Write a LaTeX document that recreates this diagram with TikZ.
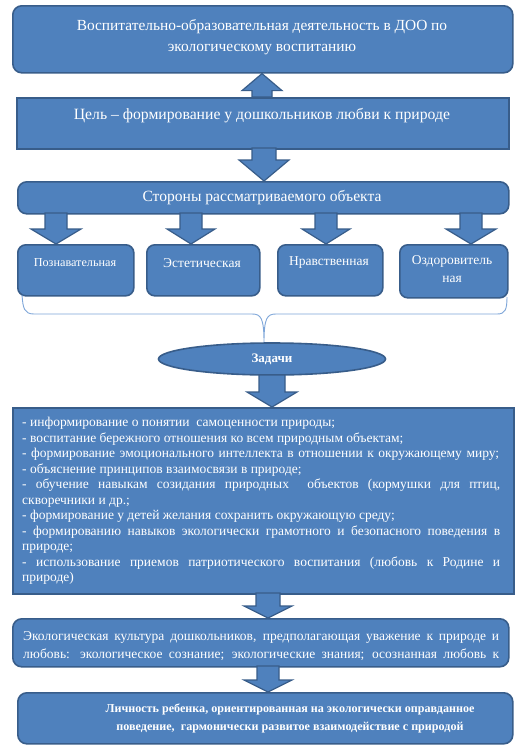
\documentclass[tikz,border=0pt]{standalone}
\usepackage{fontspec}
\setmainfont{Liberation Serif}
\usetikzlibrary{shapes.geometric,calc}
\definecolor{boxfill}{HTML}{4F81BD}
\definecolor{boxline}{HTML}{385D8A}
\definecolor{bracecol}{HTML}{7EA6D9}
\tikzset{
  basebox/.style={fill=boxfill,draw=boxline,line width=1.6pt,text=white,inner sep=0pt,align=center},
  roundbox/.style={basebox,rounded corners=9pt},
  squarebox/.style={basebox},
  label text/.style={text=white,inner sep=0pt,align=center},
  arrowshape/.style={fill=boxfill,draw=boxline,line width=1.2pt,line join=miter},
}
% #1 start, #2 tip, #3 head length, #4 shaft half width, #5 head half width
\newcommand\blockarr[5]{%
  \path[arrowshape] let \p1=(#1), \p2=(#2), \p3=($(#2)!#3!(#1)$) in
    (\x1-#4,\y1) -- (\x1+#4,\y1) -- (\x1+#4,\y3) -- (\x1+#5,\y3) -- (\x1,\y2)
    -- (\x1-#5,\y3) -- (\x1-#4,\y3) -- cycle;}
\begin{document}
\begin{tikzpicture}[x=1pt,y=-1pt]
\useasboundingbox (0,0) rectangle (525,753);
\fill[white] (0,0) rectangle (525,753);

% boxes
\node[roundbox,minimum width=500pt,minimum height=67pt,anchor=north west] (top) at (12,5) {};
\node[label text,font=\fontsize{15.4}{21}\selectfont] (toptext) at (262,37.5)
  {Воспитательно-образовательная деятельность в ДОО по\\экологическому воспитанию};
\node[squarebox,minimum width=492pt,minimum height=51pt,anchor=north west] (goal) at (16,97) {};
\node[label text,font=\fontsize{15.7}{18}\selectfont] (goaltext) at (262,116) {Цель – формирование у дошкольников любви к природе};
\node[roundbox,minimum width=491pt,minimum height=32pt,anchor=north west] (sides) at (17,181) {};
\node[label text,font=\fontsize{15.6}{18}\selectfont] (sidestext) at (262,197.5) {Стороны рассматриваемого объекта};

\tikzset{smallbox/.style={roundbox,rounded corners=8pt,anchor=north west,minimum height=51pt}}
\node[smallbox,minimum width=116pt] (p1) at (17,244) {};
\node[label text,font=\fontsize{12.2}{18}\selectfont] (p1t) at (75,263) {Познавательная};
\node[smallbox,minimum width=113pt] (p2) at (146,244) {};
\node[label text,font=\fontsize{13.5}{18}\selectfont] (p2t) at (202,263) {Эстетическая};
\node[smallbox,minimum width=105pt] (p3) at (277,244) {};
\node[label text,font=\fontsize{13.5}{18}\selectfont] (p3t) at (329,263) {Нравственная};
\node[smallbox,minimum width=108pt,minimum height=53pt] (p4) at (399,244) {};
\node[label text,font=\fontsize{13.5}{18}\selectfont] (p4t) at (452,269) {Оздоровитель\\ная};

% brace
\coordinate (bl) at (22,295);
\coordinate (bm) at (264,343);
\coordinate (br) at (507,297);
\draw[bracecol,line width=0.9pt] (bl) .. controls (23,308) and (24,314) .. (34,314) -- (252,314)
  .. controls (261,314) and (264,318) .. (bm) .. controls (264,318) and (267,314) .. (276,314)
  -- (497,314) .. controls (505,314) and (507,310) .. (br);

\node[ellipse,fill=boxfill,draw=boxline,line width=1.6pt,minimum width=227pt,minimum height=32pt,inner sep=0pt,
  text=white,font=\bfseries\fontsize{13}{14}\selectfont] (task) at (272,359) {Задачи};

\node[squarebox,minimum width=501pt,minimum height=186pt,anchor=north west] (tasks) at (12,407) {};
\node[text=white,anchor=north west,align=left,inner sep=0pt,font=\fontsize{13.5}{15.5}\selectfont] (taskstext) at (22,417) {%
- информирование о понятии \ самоценности природы;\\
- воспитание бережного отношения ко всем природным объектам;\\
\makebox[477pt][s]{- формирование эмоционального интеллекта в отношении к окружающему миру;}\\
- объяснение принципов взаимосвязи в природе;\\
\makebox[478pt][s]{- обучение навыкам созидания природных \ объектов (кормушки для птиц,}\\
скворечники и др.;\\
- формирование у детей желания сохранить окружающую среду;\\
\makebox[478pt][s]{- формированию навыков экологически грамотного и безопасного поведения в}\\
природе;\\
\makebox[478pt][s]{- использование приемов патриотического воспитания (любовь к Родине и}\\
природе)};

\node[roundbox,minimum width=496pt,minimum height=48pt,anchor=north west] (eco) at (12,618) {};
\node[text=white,anchor=north west,align=left,inner sep=0pt,font=\fontsize{13.5}{18}\selectfont] (ecotext) at (23,631) {%
\makebox[476pt][s]{Экологическая культура дошкольников, предполагающая уважение к природе и}\\
\makebox[476pt][s]{любовь: экологическое сознание; экологические знания; осознанная любовь к}};

\node[roundbox,minimum width=495pt,minimum height=51pt,anchor=north west] (final) at (17,692) {};
\node[label text,font=\bfseries\fontsize{12.1}{18}\selectfont] (finaltext) at (290,718)
  {Личность ребенка, ориентированная на экологически оправданное\\поведение, \ гармонически развитое взаимодействие с природой};

% arrows
\coordinate (u1) at (262,97);
\blockarr{u1}{u1 |- top.south}{17pt}{10pt}{20pt}
\coordinate (d1) at (264,148);
\blockarr{d1}{d1 |- sides.north}{21pt}{12pt}{25pt}
\coordinate (a1) at (56,213);
\coordinate (a2) at (191,213);
\coordinate (a3) at (326,213);
\coordinate (a4) at (471,213);
\blockarr{a1}{a1 |- p1.north}{15pt}{11pt}{25pt}
\blockarr{a2}{a2 |- p2.north}{15pt}{11pt}{24pt}
\blockarr{a3}{a3 |- p3.north}{15pt}{11pt}{24pt}
\blockarr{a4}{a4 |- p4.north}{15pt}{11pt}{25pt}
\coordinate (d2) at (272,375);
\blockarr{d2}{d2 |- tasks.north}{15pt}{13pt}{25pt}
\coordinate (d3) at (268,593);
\blockarr{d3}{d3 |- eco.north}{12pt}{12pt}{24pt}
\coordinate (d4) at (268,666);
\blockarr{d4}{d4 |- final.north}{12pt}{11pt}{24pt}
\end{tikzpicture}
\end{document}
